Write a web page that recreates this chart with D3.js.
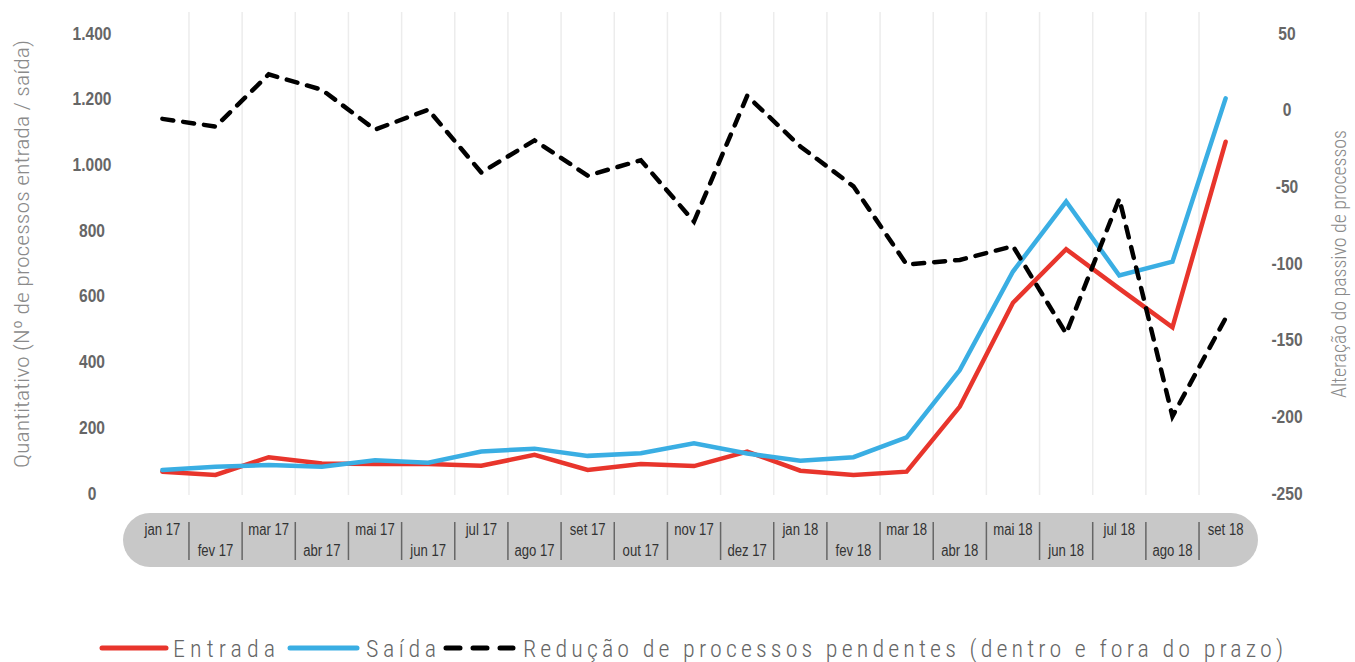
<!DOCTYPE html>
<html>
<head>
<meta charset="utf-8">
<script src="https://cdn.jsdelivr.net/npm/d3@7"></script>
<style>
  body { margin: 0; background: #fff; }
  svg { display: block; font-family: "Roboto Condensed", "Liberation Sans Narrow", Roboto, "DejaVu Sans Condensed", sans-serif; }
</style>
</head>
<body>
<svg id="chart" width="1355" height="662"></svg>
<script>
"use strict";
var months = ["jan 17", "fev 17", "mar 17", "abr 17", "mai 17", "jun 17", "jul 17",
  "ago 17", "set 17", "out 17", "nov 17", "dez 17", "jan 18", "fev 18", "mar 18",
  "abr 18", "mai 18", "jun 18", "jul 18", "ago 18", "set 18"];
var entrada = [65, 55, 109, 90, 88, 88, 83, 116, 70, 88, 82, 126, 68, 55, 65, 263, 579, 742, 622, 504, 1069];
var saida = [70, 80, 85, 80, 100, 92, 126, 135, 113, 121, 151, 120, 98, 109, 169, 374, 674, 887, 662, 704, 1201];
var reducao = [-6, -11, 23, 13, -13, 0, -41, -20, -43, -33, -73, 9, -24, -50, -101, -98, -89, -146, -58, -200, -136];
var leftTicks = [0, 200, 400, 600, 800, 1000, 1200, 1400];
var rightTicks = [-250, -200, -150, -100, -50, 0, 50];

var svg = d3.select("#chart");
var plotTop = 33, plotBottom = 493;
var narrow = "scale(0.82,1)";

var x = d3.scaleBand().domain(months).range([135.8, 1252.2]);
var yL = d3.scaleLinear().domain([0, 1400]).range([plotBottom, plotTop]);
var yR = d3.scaleLinear().domain([-250, 50]).range([plotBottom, plotTop]);
var cx = d => x(d) + x.bandwidth() / 2;

var ptLocale = d3.formatLocale({decimal: ",", thousands: ".", grouping: [3], currency: ["", ""], minus: "-"});

// vertical grid at category boundaries
svg.append("g").selectAll("line")
  .data(months.slice(1))
  .join("line")
    .attr("x1", d => x(d)).attr("x2", d => x(d))
    .attr("y1", 12).attr("y2", 495)
    .attr("stroke", "#ececec").attr("stroke-width", 1.5);

// left axis
var gl = svg.append("g").attr("transform", "translate(92,0)")
  .call(d3.axisLeft(yL).tickValues(leftTicks).tickSize(0).tickPadding(0).tickFormat(ptLocale.format(",")));
gl.select(".domain").remove();
gl.selectAll("text").attr("text-anchor", "middle").attr("x", 0).attr("transform", narrow)
  .attr("fill", "#666").style("font-size", "19px").style("font-weight", "bold");

// right axis
var gr = svg.append("g").attr("transform", "translate(1287,0)")
  .call(d3.axisRight(yR).tickValues(rightTicks).tickSize(0).tickPadding(0).tickFormat(ptLocale.format("")));
gr.select(".domain").remove();
gr.selectAll("text").attr("text-anchor", "middle").attr("x", 0).attr("transform", narrow)
  .attr("fill", "#666").style("font-size", "19px").style("font-weight", "bold");

// axis titles
svg.append("text")
  .attr("transform", "translate(29,254) rotate(-90)")
  .attr("text-anchor", "middle").attr("fill", "#8a8a8a").style("font-size", "21px").style("font-weight", 300)
  .attr("textLength", 428).attr("lengthAdjust", "spacingAndGlyphs")
  .text("Quantitativo (Nº de processos entrada / saída)");
svg.append("text")
  .attr("transform", "translate(1346,264) rotate(-90)")
  .attr("text-anchor", "middle").attr("fill", "#8a8a8a").style("font-size", "21px").style("font-weight", 300)
  .attr("textLength", 268).attr("lengthAdjust", "spacingAndGlyphs")
  .text("Alteração do passivo de processos");

// category band
svg.append("rect")
  .attr("x", 123).attr("y", 513).attr("width", 1135).attr("height", 54)
  .attr("rx", 27).attr("fill", "#c8c8c8");

var gx = svg.append("g").attr("transform", "translate(0,513)")
  .call(d3.axisBottom(x).tickSize(0).tickPadding(0));
gx.select(".domain").remove();
gx.selectAll(".tick text")
  .attr("y", (d, i) => i % 2 == 0 ? 22 : 43)
  .attr("dy", 0).attr("transform", narrow)
  .attr("fill", "#333").style("font-size", "16px");
svg.append("g").selectAll("line")
  .data(months.slice(1))
  .join("line")
    .attr("x1", d => x(d)).attr("x2", d => x(d))
    .attr("y1", 522).attr("y2", 560)
    .attr("stroke", "#666").attr("stroke-width", 1.5);

// lines
var lineL = d3.line().x((d, i) => cx(months[i])).y(d => yL(d));
var lineR = d3.line().x((d, i) => cx(months[i])).y(d => yR(d));

svg.append("path").datum(entrada)
  .attr("d", lineL).attr("fill", "none")
  .attr("stroke", "#e8352c").attr("stroke-width", 4.5).attr("stroke-linecap", "round");
svg.append("path").datum(saida)
  .attr("d", lineL).attr("fill", "none")
  .attr("stroke", "#3aaee3").attr("stroke-width", 4.5).attr("stroke-linecap", "round");
svg.append("path").datum(reducao)
  .attr("d", lineR).attr("fill", "none")
  .attr("stroke", "#000").attr("stroke-width", 4.5)
  .attr("stroke-dasharray", "11,10").attr("stroke-linecap", "round");

// legend
var legend = [
  {label: "Entrada", color: "#e8352c", dash: null, x1: 102, x2: 166, tx: 173, tw: 102},
  {label: "Saída", color: "#3aaee3", dash: null, x1: 290, x2: 357, tx: 366, tw: 70},
  {label: "Redução de processos pendentes (dentro e fora do prazo)", color: "#000", dash: "14,13", x1: 446, x2: 513, tx: 523, tw: 760}
];
var lg = svg.append("g").selectAll("g").data(legend).join("g");
lg.append("line")
  .attr("x1", d => d.x1).attr("x2", d => d.x2).attr("y1", 648).attr("y2", 648)
  .attr("stroke", d => d.color).attr("stroke-width", 5).attr("stroke-linecap", "round")
  .attr("stroke-dasharray", d => d.dash);
lg.append("text")
  .attr("x", d => d.tx).attr("y", 657)
  .attr("textLength", d => d.tw).attr("lengthAdjust", "spacing")
  .attr("fill", "#666").style("font-size", "24px").style("font-weight", 300)
  .text(d => d.label);
</script>
</body>
</html>
